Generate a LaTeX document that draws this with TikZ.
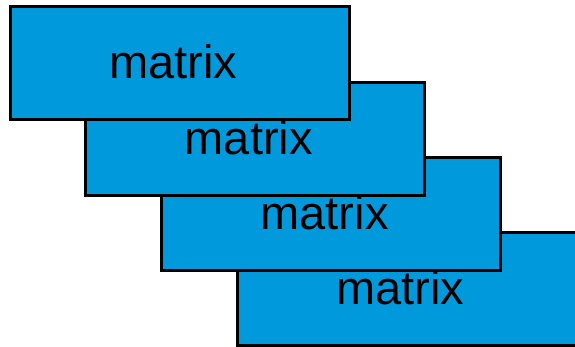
\documentclass[tikz,border=0pt]{standalone}
\usepackage{fontspec}
\setmainfont{Liberation Sans}
\definecolor{boxblue}{RGB}{0,154,220}
\begin{document}
\begin{tikzpicture}[x=1pt,y=-1pt,
  stackbox/.style={draw=black, fill=boxblue, line width=3pt, rectangle,
    minimum width=339pt, minimum height=113pt, inner sep=0pt, outer sep=0pt},
  boxlabel/.style={font=\fontsize{47}{51}\selectfont, anchor=base, inner sep=0pt}]
  \useasboundingbox (0,0) rectangle (575,347);
  \begin{scope}
    \clip (0,0) rectangle (575,347);
    % back to front
    \foreach \i in {3,2,1,0} {
      \node[stackbox] (box\i) at ({179.5+75.8*\i},{63.5+75.2*\i}) {};
      \node[boxlabel] (label\i) at ([shift={(-6.5,15.5)}]box\i.center) {matrix};
    }
  \end{scope}
\end{tikzpicture}
\end{document}
